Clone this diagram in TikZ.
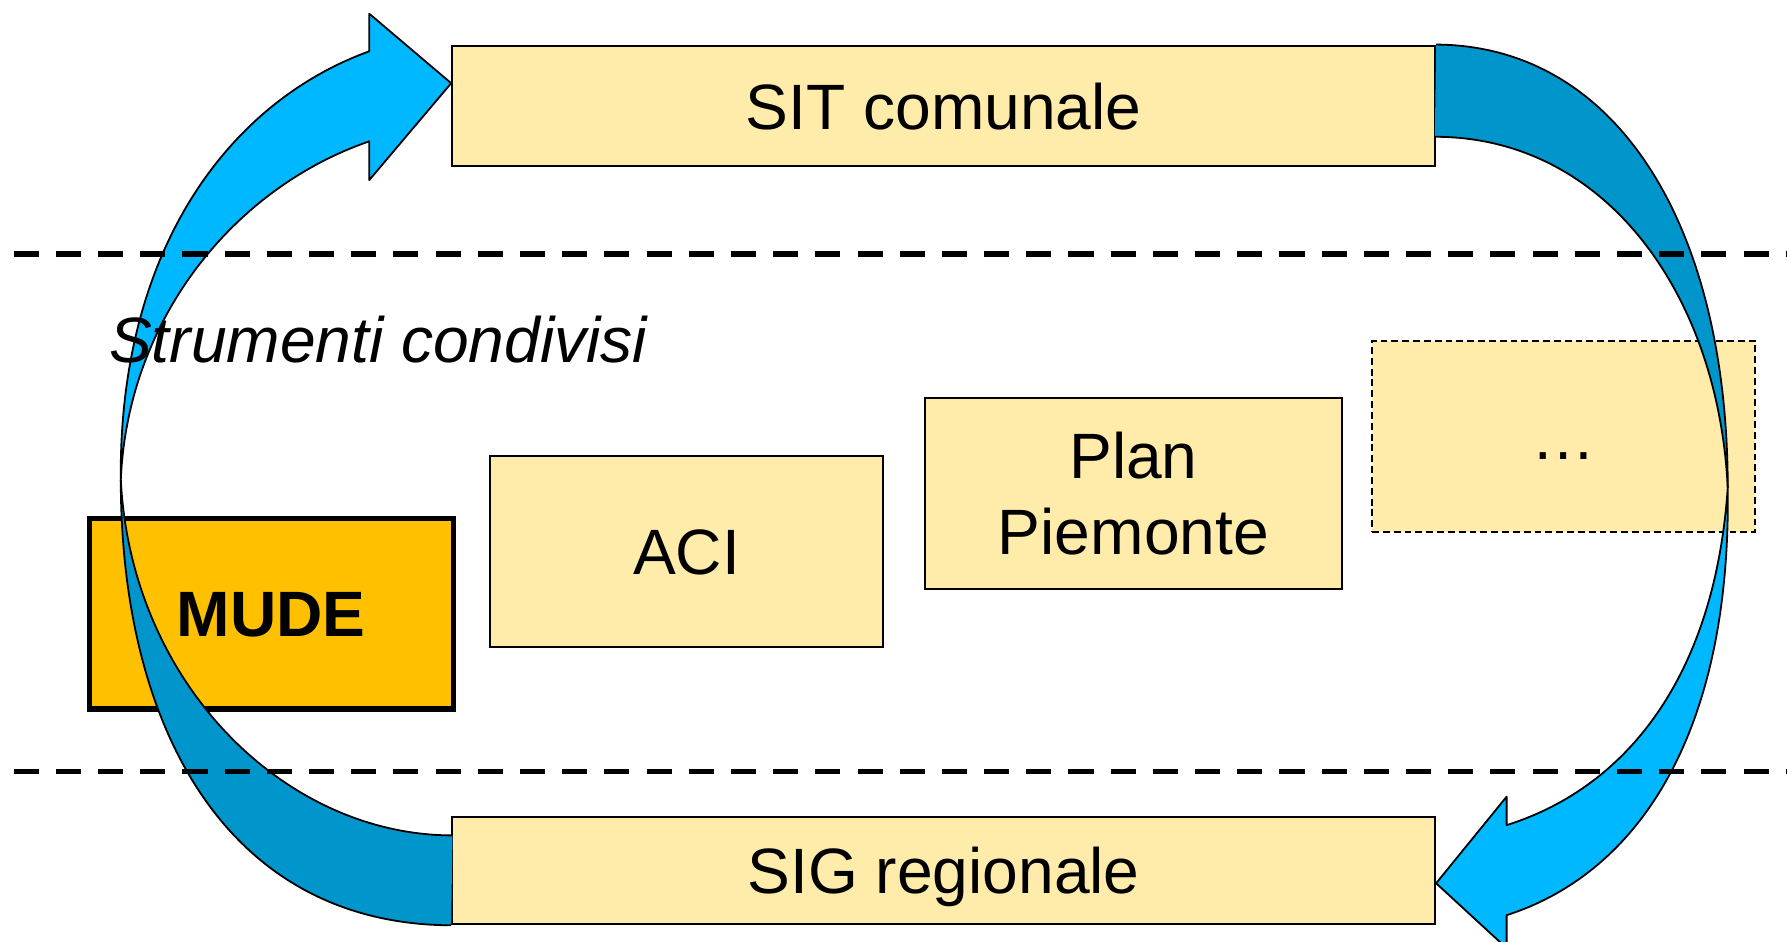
\documentclass[tikz,border=0pt]{standalone}
\usepackage{fontspec}
\setmainfont{Liberation Sans}
\definecolor{boxfill}{RGB}{255,235,170}
\definecolor{mudefill}{RGB}{255,192,0}
\definecolor{lightblue}{RGB}{0,184,255}
\definecolor{darkblue}{RGB}{0,150,204}
\tikzset{
  txt/.style={font=\fontsize{16pt}{19pt}\selectfont},
  onel/.style={text height=11.5pt, text depth=0pt},
  plainbox/.style={draw=black, line width=0.5pt, fill=boxfill, inner sep=0pt, txt, align=center},
  mudebox/.style={draw=black, line width=1.3pt, fill=mudefill, inner sep=0pt, font=\fontsize{16pt}{19pt}\selectfont\bfseries},
  dotsbox/.style={draw=black, line width=0.45pt, dash pattern=on 0.06cm off 0.035cm, fill=boxfill, inner sep=0pt, txt},
  band/.style={draw=black, line width=0.45pt, line join=round},
  sepline/.style={draw=black, line width=1.4pt, dash pattern=on 0.22cm off 0.15cm}
}
\begin{document}
\begin{tikzpicture}[x={(0.01cm,0)}, y={(0,-0.01cm)}]
\useasboundingbox (0,0) rectangle (1568,826);

% boxes
\node[plainbox, onel, minimum width=8.62cm, minimum height=1.06cm] (sit) at (828,93) {SIT comunale};
\node[plainbox, onel, minimum width=8.62cm, minimum height=0.94cm] (sig) at (828,764) {SIG regionale};
\node[mudebox, onel, minimum width=3.19cm, minimum height=1.67cm] (mude) at (238,538.5) {MUDE};
\node[plainbox, onel, minimum width=3.45cm, minimum height=1.68cm] (aci) at (602.5,484) {ACI};
\node[plainbox, minimum width=3.65cm, minimum height=1.68cm] (plan) at (994.5,433) {Plan\\Piemonte};
\node[dotsbox, minimum width=3.36cm, minimum height=1.68cm] (dots) at (1372,383) {};
\node[txt, onel, inner sep=0pt] (dotstxt) at (dots.center) {…};

% left curved arrow (from SIG regionale up to SIT comunale)
\coordinate (lp) at (106,421);
\coordinate (rp) at (1516,428);
\fill[darkblue] (lp) .. controls (106,640) and (200,811) .. (sig.south west)
  -- (397,733) .. controls (250,733) and (115,600) .. (lp) -- cycle;
\draw[band] (lp) .. controls (106,640) and (200,811) .. (sig.south west);
\draw[band] (397,733) .. controls (250,733) and (115,600) .. (lp);
\path[band, fill=lightblue] (lp) .. controls (104,220) and (200,90) .. (324,45)
  -- (324,12) -- (sit.south west |- 0,73) -- (324,158) -- (324,124)
  .. controls (205,165) and (112,280) .. (lp) -- cycle;

% right curved arrow (from SIT comunale down to SIG regionale)
\fill[darkblue] (sit.north east) .. controls (1420,40) and (1516,200) .. (rp)
  .. controls (1508,260) and (1410,120) .. (1259,120) -- cycle;
\draw[band] (sit.north east) .. controls (1420,40) and (1516,200) .. (rp);
\draw[band] (rp) .. controls (1508,260) and (1410,120) .. (1259,120);
\path[band, fill=lightblue] (rp) .. controls (1519,640) and (1440,765) .. (1322,803)
  -- (1322,832) -- (sig.north east |- 0,775) -- (1322,699) -- (1322,724)
  .. controls (1430,690) and (1505,590) .. (rp) -- cycle;

% separator lines
\coordinate (s1a) at (12,223);
\coordinate (s1b) at (1568,223);
\coordinate (s2a) at (12,677);
\coordinate (s2b) at (1568,677);
\draw[sepline] (s1a) -- (s1b);
\draw[sepline] (s2a) -- (s2b);

% label
\node[font=\fontsize{16pt}{19pt}\selectfont\itshape, anchor=base west, inner sep=0pt] (lab) at (95,318) {Strumenti condivisi};
\end{tikzpicture}
\end{document}
